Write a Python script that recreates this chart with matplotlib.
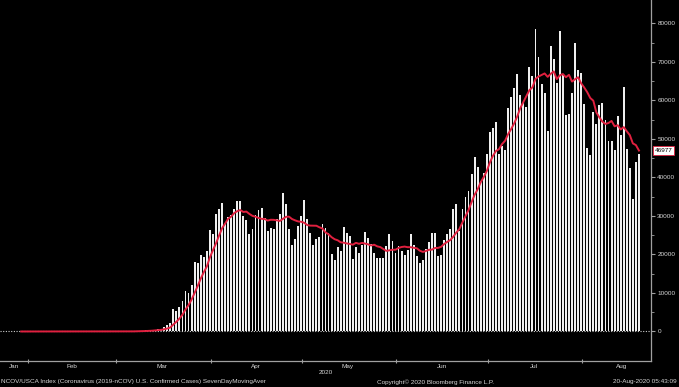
import matplotlib
matplotlib.use("Agg")
import matplotlib.pyplot as plt
import matplotlib.dates as mdates
import matplotlib.transforms as mtransforms
import numpy as np
import pandas as pd

plt.rcParams['font.family'] = ['Liberation Sans', 'DejaVu Sans']

# daily new confirmed cases, U.S., 23-Jan-2020 .. 19-Aug-2020
jan = [0, 1, 0, 3, 0, 0, 0, 1, 1]
feb = [1, 0, 3, 0, 1, 0, 0, 0, 0, 1, 0, 0, 1, 0, 0, 0, 0, 0, 0, 0,
       2, 0, 0, 36, 2, 6, 3, 1, 8]
mar = [7, 23, 20, 31, 68, 45, 140, 116, 65, 376, 322, 382, 516, 548, 772,
       1133, 1789, 2100, 5894, 5423, 6389, 7787, 10571, 9893, 12038, 18058,
       17821, 19821, 19408, 20922, 26341]
apr = [25200, 30390, 31824, 33267, 28219, 29595, 30173, 31709, 33901, 33752,
       29861, 28917, 25306, 26641, 30148, 31667, 32165, 29500, 26098, 26800,
       26500, 29295, 30500, 35896, 33200, 26543, 22407, 24132, 27326, 29917]
may = [34037, 29078, 25501, 22335, 23976, 24500, 27800, 26906, 25621, 20242,
       18621, 22048, 20782, 27143, 25508, 24700, 18937, 22000, 20305, 22440,
       25800, 24225, 22600, 20300, 19000, 19049, 19064, 22200, 25300, 23615,
       20350]
jun = [22200, 20800, 19800, 21100, 25300, 22500, 19500, 17800, 18600, 21500,
       23300, 25600, 25500, 19600, 19800, 23700, 25400, 26500, 31900, 33000,
       26000, 31800, 35000, 36500, 40800, 45400, 42800, 39000, 41100, 46000]
jul = [51800, 52900, 54300, 46200, 48200, 47100, 58100, 61000, 63300, 66800,
       61400, 59200, 58200, 68600, 66300, 78400, 71200, 64200, 62000, 52000,
       74100, 70700, 64400, 78000, 66600, 56200, 56400, 61800, 75000, 68000,
       67000]
aug = [59000, 47700, 45800, 56900, 53800, 58800, 59200, 54900, 49500, 49500,
       47100, 55900, 51000, 63500, 47300, 42500, 34500, 44000, 46000]

cases = jan + feb + mar + apr + may + jun + jul + aug
dates = pd.date_range('2020-01-23', periods=len(cases), freq='D')
ma7 = pd.Series(cases, dtype=float).rolling(7).mean()
last_ma = 46977

months = ['Jan', 'Feb', 'Mar', 'Apr', 'May', 'Jun', 'Jul', 'Aug']
month_label_days = ['2020-01-27 10:00', '2020-02-15 12:00', '2020-03-16 00:00',
                    '2020-04-15 22:00', '2020-05-16 00:00', '2020-06-16 00:00',
                    '2020-07-16 05:00', '2020-08-14 03:00']

fg = '#d6d6d6'
axis_col = '#a0a0a0'
red = '#e0203f'
fs = 4.6

fig = plt.figure(figsize=(6.79, 3.87), dpi=100, facecolor='black')
ax = fig.add_axes([0, 1 - 361 / 387, 651 / 679, 361 / 387], facecolor='black')

x = mdates.date2num(dates) + 0.75
ax.axhline(0, color='#cfcfcf', lw=0.8, ls=(0, (1, 1.4)), zorder=1)
ax.bar(x, cases, width=0.62, color='#efefef', linewidth=0, zorder=2)
ax.plot(x, ma7, color=red, lw=1.4, zorder=3)

ax.set_xlim(mdates.date2num(pd.Timestamp('2020-01-22 19:00')),
            mdates.date2num(pd.Timestamp('2020-08-23 17:00')))
ax.set_ylim(-7660, 86050)

for side in ['left', 'top']:
    ax.spines[side].set_visible(False)
for side in ['right', 'bottom']:
    ax.spines[side].set_color(axis_col)
    ax.spines[side].set_linewidth(0.9)

# y axis on the right
ax.yaxis.tick_right()
ax.set_yticks(np.arange(0, 80001, 10000))
ax.set_yticks(np.arange(5000, 80001, 10000), minor=True)
ax.set_yticklabels([str(v) for v in range(0, 80001, 10000)])
ax.tick_params(axis='y', which='major', length=3, width=0.8, color=axis_col,
               labelsize=fs, labelcolor=fg, pad=1.5)
ax.tick_params(axis='y', which='minor', length=2, width=0.6, color=axis_col)

# x axis: ticks at month starts, names in between
ax.set_xticks(mdates.date2num(pd.date_range('2020-02-01', '2020-08-01', freq='MS')))
ax.set_xticklabels([])
label_pos = pd.to_datetime(month_label_days, format='%Y-%m-%d %H:%M')
ax.set_xticks(mdates.date2num(label_pos), minor=True)
ax.set_xticklabels(months, minor=True)
ax.tick_params(axis='x', which='major', direction='inout', length=3,
               width=0.8, color=axis_col)
ax.tick_params(axis='x', which='minor', length=0, labelsize=fs,
               labelcolor=fg, pad=2.5)

# last value box
trans = mtransforms.blended_transform_factory(ax.transAxes, ax.transData)
ax.text(1.006, last_ma, str(last_ma), transform=trans, ha='left', va='center',
        fontsize=fs, color='black', clip_on=False,
        bbox=dict(boxstyle='square,pad=0.25', facecolor='white',
                  edgecolor=red, linewidth=0.6))

fig.text(326 / 679, 1 - 373 / 387, '2020', color=fg, fontsize=fs,
         ha='center', va='center')
fig.text(0.001, 1 - 382 / 387,
         'NCOV/USCA Index (Coronavirus (2019-nCOV) U.S. Confirmed Cases) SevenDayMovingAver',
         color=fg, fontsize=fs, ha='left', va='center')
fig.text(435 / 679, 1 - 382 / 387, 'Copyright\u00a9 2020 Bloomberg Finance L.P.',
         color=fg, fontsize=fs, ha='center', va='center')
fig.text(677 / 679, 1 - 382 / 387, '20-Aug-2020 05:43:09', color=fg,
         fontsize=fs, ha='right', va='center')

fig.savefig('out.png', dpi=100, facecolor='black')
